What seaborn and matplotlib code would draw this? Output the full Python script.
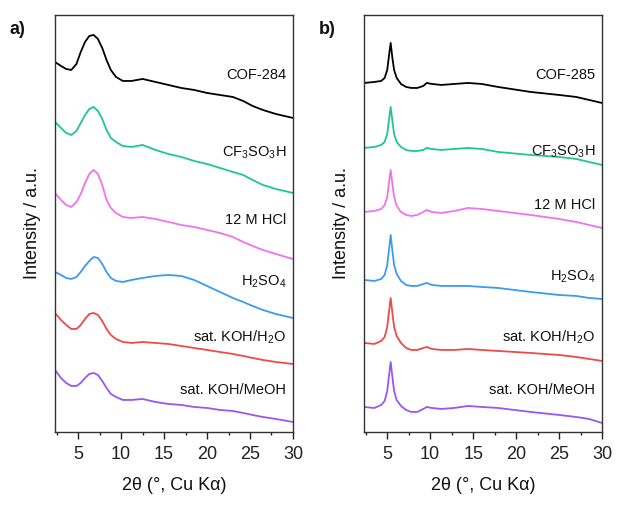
import matplotlib
matplotlib.use('Agg')
import matplotlib.pyplot as plt
import numpy as np
import pandas as pd
import seaborn as sns

# 2-theta grids for the two panels
two_theta_a = [2.3, 3.0, 3.6, 4.2, 4.8, 5.3, 5.8, 6.3, 6.8, 7.3, 7.8, 8.3, 8.8, 9.4,
               10.2, 11.2, 12.5, 14.0, 15.5, 17.0, 18.5, 20.0, 21.5, 23.0, 24.2,
               25.3, 26.5, 28.0, 30.0]
two_theta_b = [2.3, 3.5, 4.3, 4.7, 5.0, 5.2, 5.4, 5.6, 5.8, 6.1, 6.6, 7.2, 7.8, 8.5,
               9.2, 9.6, 10.2, 11.3, 12.8, 14.4, 16.0, 17.9, 21.7, 25.0, 27.0,
               28.5, 30.0]

samples = ['parent', 'CF3SO3H', '12 M HCl', 'H2SO4', 'sat. KOH/H2O', 'sat. KOH/MeOH']

# panel a: COF-284 (stacked intensities, a.u.)
cof284 = [370, 366, 363, 362, 368, 380, 390, 396, 397, 393, 384, 372, 362, 355,
          351, 351, 353, 350, 347, 344, 342, 339, 337, 335, 331, 326, 322, 318, 314]
cof284_tfa = [310, 304, 299, 297, 301, 309, 317, 323, 325, 321, 313, 302, 294, 290,
              286, 285, 287, 282, 278, 275, 271, 268, 264, 260, 257, 252, 247, 243, 239]
cof284_hcl = [239, 232, 227, 225, 230, 238, 249, 258, 262, 258, 247, 232, 224, 219,
              215, 214, 215, 213, 210, 207, 205, 202, 199, 195, 190, 186, 182, 178, 173]
cof284_h2so4 = [160, 157, 154, 153, 155, 160, 166, 171, 175, 174, 168, 160, 154, 151,
                150, 152, 154, 156, 157, 156, 152, 146, 140, 134, 130, 126, 122, 118, 114]
cof284_koh_h2o = [119, 112, 107, 103, 103, 107, 113, 118, 119, 117, 111, 103, 97, 93,
                  90, 89, 90, 89, 88, 86, 84, 82, 80, 78, 76, 74, 72, 70, 68]
cof284_koh_meoh = [62, 54, 49, 46, 46, 49, 54, 58, 59, 57, 51, 44, 38, 35,
                   32, 32, 33, 30, 28, 27, 25, 24, 22, 21, 19, 17, 15, 13, 10]

# panel b: COF-285
cof285 = [349, 350, 351, 354, 362, 376, 389, 374, 362, 354, 348, 345, 344, 344,
          346, 349, 348, 347, 348, 349, 348, 345, 340, 337, 335, 332, 329]
cof285_tfa = [284, 285, 287, 290, 298, 312, 325, 311, 298, 290, 285, 282, 281, 281,
              282, 284, 283, 282, 283, 284, 283, 280, 277, 275, 273, 270, 267]
cof285_hcl = [220, 221, 223, 227, 235, 249, 262, 248, 235, 226, 220, 217, 216, 217,
              220, 222, 220, 219, 221, 224, 223, 221, 217, 213, 210, 207, 204]
cof285_h2so4 = [152, 151, 153, 157, 167, 182, 197, 181, 167, 158, 151, 147, 146, 146,
                148, 149, 147, 146, 146, 146, 145, 144, 140, 137, 136, 134, 133]
cof285_koh_h2o = [89, 88, 91, 95, 105, 120, 134, 119, 105, 96, 89, 84, 82, 82,
                  84, 85, 83, 82, 82, 83, 82, 81, 79, 77, 75, 73, 71]
cof285_koh_meoh = [25, 24, 27, 31, 41, 56, 70, 55, 41, 32, 26, 22, 20, 20,
                   23, 25, 24, 23, 24, 26, 25, 24, 20, 17, 15, 13, 9]

colors = ['#000000', '#1ec88c', '#f272ee', '#3a9cf0', '#ef4a4a', '#9a56ee']


def make_frame(x, series):
    frames = []
    for name, vals in zip(samples, series):
        frames.append(pd.DataFrame({'2theta': x, 'intensity': vals, 'sample': name}))
    return pd.concat(frames, ignore_index=True)


df_a = make_frame(two_theta_a, [cof284, cof284_tfa, cof284_hcl, cof284_h2so4,
                                cof284_koh_h2o, cof284_koh_meoh])
df_b = make_frame(two_theta_b, [cof285, cof285_tfa, cof285_hcl, cof285_h2so4,
                                cof285_koh_h2o, cof285_koh_meoh])

sns.set_style('white')
plt.rcParams['font.family'] = ['Liberation Sans', 'DejaVu Sans']
plt.rcParams['mathtext.default'] = 'regular'
plt.rcParams['text.color'] = '#111111'
plt.rcParams['axes.labelcolor'] = '#111111'
plt.rcParams['xtick.color'] = '#222222'

fig = plt.figure(figsize=(6.17, 5.07), dpi=100)
ax_a = fig.add_axes([0.0891, 0.148, 0.3857, 0.8225])
ax_b = fig.add_axes([0.590, 0.148, 0.3857, 0.8225])

labels_a = ['COF-284', 'CF$_3$SO$_3$H', '12 M HCl', 'H$_2$SO$_4$',
            'sat. KOH/H$_2$O', 'sat. KOH/MeOH']
labels_b = ['COF-285', 'CF$_3$SO$_3$H', '12 M HCl', 'H$_2$SO$_4$',
            'sat. KOH/H$_2$O', 'sat. KOH/MeOH']
label_y_a = [357, 279, 212, 150, 95, 42]
label_y_b = [357, 280, 227, 155, 95, 42]

for ax, df, labels, label_y, tag in [(ax_a, df_a, labels_a, label_y_a, 'a)'),
                                     (ax_b, df_b, labels_b, label_y_b, 'b)')]:
    sns.lineplot(data=df, x='2theta', y='intensity', hue='sample',
                 palette=colors, estimator=None, sort=False, linewidth=1.3,
                 legend=False, ax=ax)
    for line in ax.lines:
        line.set_solid_joinstyle('round')
    ax.set_xlim(2.3, 30)
    ax.set_ylim(0, 417)
    ax.set_xticks(np.arange(5, 31, 5))
    ax.set_xticks(np.arange(2.5, 30.1, 2.5), minor=True)
    ax.set_yticks([])
    ax.tick_params(axis='x', which='major', direction='out', length=5,
                   width=1, labelsize=13, pad=5, bottom=True)
    ax.tick_params(axis='x', which='minor', direction='out', length=2.5,
                   width=1, bottom=True)
    for s in ax.spines.values():
        s.set_linewidth(1)
        s.set_color('#333333')
    ax.set_xlabel('2θ (°, Cu Kα)', fontsize=13, labelpad=10)
    ax.set_ylabel('Intensity / a.u.', fontsize=13, labelpad=10)
    for text, y in zip(labels, label_y):
        ax.text(29.2, y, text, ha='right', va='center', fontsize=10.5)
    ax.text(-0.19, 0.965, tag, transform=ax.transAxes, fontsize=13,
            fontweight='bold', ha='left', va='center')

fig.savefig('out.png', dpi=100)
